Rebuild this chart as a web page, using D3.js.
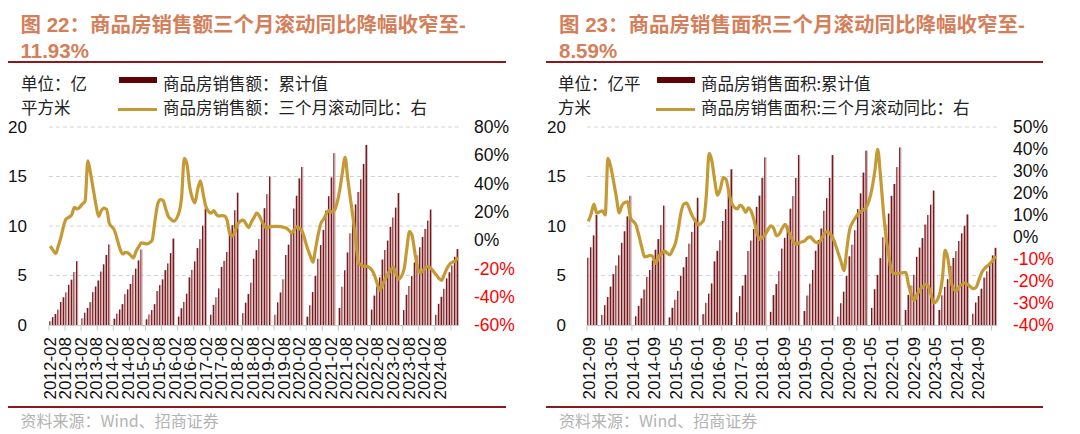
<!DOCTYPE html>
<html>
<head>
<meta charset="utf-8">
<script src="https://cdn.jsdelivr.net/npm/d3@7"></script>
<style>
  body{margin:0;background:#fff;}
  svg{display:block;}
</style>
</head>
<body>
<svg id="chart" width="1080" height="434"></svg>
<script>
// ---- data ----
// fig 22: commercial housing sales, cumulative (bars) and 3m rolling yoy % (line), 2012-02 .. 2024-10, no January
const leftSales = [
  0.38, 0.79, 1.11, 1.56, 2.32, 2.80, 3.30, 4.06, 4.58, 5.35, 6.45,
  0.68, 1.24, 1.72, 2.31, 3.32, 3.89, 4.50, 5.40, 6.13, 7.07, 8.14,
  0.64, 1.15, 1.57, 2.11, 3.11, 3.60, 4.15, 5.05, 5.70, 6.53, 7.63,
  0.58, 1.06, 1.51, 2.11, 3.43, 4.03, 4.61, 5.54, 6.22, 7.26, 8.73,
  0.86, 1.69, 2.33, 3.16, 4.81, 5.57, 6.43, 7.77, 8.67, 10.03, 11.76,
  1.04, 2.04, 2.80, 3.70, 5.87, 6.48, 7.38, 9.16, 10.08, 11.59, 13.37,
  1.19, 2.26, 3.14, 4.27, 6.69, 7.56, 8.69, 10.62, 11.80, 13.22, 15.00,
  1.04, 2.29, 3.29, 4.62, 7.07, 8.12, 9.51, 11.77, 13.06, 14.81, 15.97,
  0.85, 2.00, 3.33, 4.96, 6.69, 8.07, 9.61, 11.56, 13.01, 14.91, 17.36,
  1.73, 3.86, 5.53, 7.33, 9.26, 10.82, 12.18, 13.44, 14.72, 16.27, 18.19,
  1.56, 2.97, 3.89, 4.81, 6.61, 7.58, 8.53, 9.92, 10.86, 11.86, 13.33,
  1.50, 3.05, 3.94, 4.95, 6.31, 7.05, 7.85, 8.90, 9.70, 10.55, 11.66,
  1.03, 2.14, 2.85, 3.66, 4.71, 5.33, 6.02, 6.89, 7.67
];
const leftYoy = [
  -4.2, -7.1, -9.5, -4.0, 2.2, 10.4, 15.2, 16.3, 18.0, 23.1, 22.1,
  25.6, 27.8, 56.0, 47.4, 36.3, 25.4, 16.8, 20.7, 22.6, 21.7, 12.1,
  6.6, 0.3, -6.1, -9.8, -8.7, -9.1, -10.8, -12.6, -7.9, -4.7, -1.9,
  -2.7, -1.8, 0.0, 12.8, 24.9, 28.7, 28.3, 22.6, 16.9, 14.9, 13.4,
  19.4, 30.5, 57.9, 53.7, 37.7, 29.7, 26.4, 36.0, 42.0, 33.2, 24.0,
  19.1, 20.9, 18.1, 17.0, 17.4, 17.1, 13.9, 4.3, 2.9, 6.6, 11.5,
  14.1, 11.6, 8.9, 12.7, 15.9, 19.1, 17.2, 13.1, 9.7, 8.3, 9.6,
  9.7, 9.7, 9.6, 9.1, 8.6, 7.0, 5.1, 7.3, 9.6, 8.3, 6.1,
  -6.1, -11.1, -15.5, -5.7, 4.3, 11.9, 14.9, 18.7, 21.1, 19.8, 21.1,
  35.5, 47.9, 58.6, 43.2, 29.1, 15.2, -1.0, -16.2, -17.5, -18.5, -18.5,
  -21.2, -25.0, -30.8, -35.5, -31.2, -27.5, -23.7, -21.2, -19.0, -23.8, -27.6,
  -20.5, -6.6, 6.0, 3.2, -8.4, -19.5, -23.0, -21.7, -19.5, -18.5, -20.0,
  -24.5, -27.0, -28.4, -24.4, -20.1, -17.1, -15.6, -15.0, -11.93
];
const leftTickLabels = ["2012-02","2012-08","2013-02","2013-08","2014-02","2014-08","2015-02","2015-08",
  "2016-02","2016-08","2017-02","2017-08","2018-02","2018-08","2019-02","2019-08","2020-02","2020-08",
  "2021-02","2021-08","2022-02","2022-08","2023-02","2023-08","2024-02","2024-08"];

// fig 23: sales floor area, cumulative (bars) and 3m rolling yoy % (line), 2012-09 .. 2024-10, no January
const rightArea = [
  6.80, 7.85, 9.05, 11.13,
  1.01, 2.01, 2.83, 3.88, 5.14, 6.02, 7.04, 8.30, 9.47, 10.97, 13.06,
  0.88, 1.93, 2.70, 3.58, 4.86, 5.55, 6.52, 7.61, 8.68, 10.09, 12.06,
  0.77, 1.74, 2.56, 3.45, 4.96, 5.83, 6.87, 8.22, 9.41, 10.82, 12.85,
  1.10, 2.24, 3.17, 4.20, 6.43, 7.50, 8.56, 10.51, 11.70, 13.50, 15.73,
  1.29, 2.92, 3.98, 5.07, 7.47, 8.53, 9.69, 11.93, 13.07, 14.87, 16.94,
  1.33, 3.02, 4.13, 5.44, 7.72, 8.80, 10.05, 11.75, 13.02, 14.86, 17.17,
  1.41, 2.98, 4.18, 5.56, 7.50, 8.59, 9.75, 11.54, 12.81, 14.86, 17.16,
  0.85, 2.20, 3.37, 4.95, 6.94, 8.12, 9.57, 11.70, 13.30, 15.40, 17.61,
  1.73, 3.61, 5.06, 6.75, 8.86, 10.13, 11.26, 13.05, 14.25, 15.95, 17.94,
  1.51, 3.05, 3.99, 5.07, 6.89, 7.82, 8.78, 10.15, 11.11, 12.16, 13.58,
  1.51, 3.00, 3.85, 4.63, 5.95, 6.77, 7.46, 8.48, 9.26, 10.03, 11.17,
  1.14, 2.27, 2.93, 3.67, 4.79, 5.42, 6.05, 7.03, 7.80
];
const rightYoy = [
  7.1, 10.5, 14.9, 10.9,
  11.9, 10.0, 35.7, 31.8, 25.2, 18.0, 11.0, 14.4, 15.7, 16.0, 8.9,
  5.3, 0.7, -4.5, -9.0, -8.8, -8.3, -9.0, -12.0, -8.9, -7.7, -6.4,
  -8.1, -5.8, -2.8, 3.5, 11.2, 15.0, 15.4, 12.7, 9.6, 7.4, 5.6,
  7.6, 18.8, 38.0, 34.4, 25.6, 19.0, 21.8, 27.0, 26.2, 20.5, 15.4,
  12.8, 14.5, 13.5, 11.2, 13.3, 11.6, 7.6, 1.8, -1.1, -0.2, 1.3,
  5.1, 3.9, 0.5, 1.4, 4.0, 5.8, 3.2, 0.5, -2.2, -3.3, -2.6,
  -1.8, -0.4, 0.1, -1.3, -2.4, -2.6, -0.7, 1.5, 2.5, 1.6, -0.3,
  -7.6, -11.5, -15.3, -5.5, 3.4, 6.5, 8.6, 10.5, 11.5, 12.4, 13.6,
  22.4, 30.2, 39.8, 27.4, 12.0, -0.5, -8.8, -15.8, -16.5, -16.6, -16.4,
  -16.1, -22.0, -26.4, -28.8, -26.1, -24.1, -22.6, -21.6, -22.4, -26.2, -30.0,
  -26.0, -19.0, -5.9, -10.0, -19.7, -23.6, -24.6, -22.6, -21.6, -21.0, -21.6,
  -23.5, -22.9, -19.6, -16.2, -14.3, -13.2, -12.0, -10.5, -8.59
];
const rightTickLabels = ["2012-09","2013-05","2014-01","2014-09","2015-05","2016-01","2016-09","2017-05",
  "2018-01","2018-09","2019-05","2020-01","2020-09","2021-05","2022-01","2022-09","2023-05","2024-01","2024-09"];

const leftAxisTicks = [0, 5, 10, 15, 20];

// ---- drawing ----
const latin = "'Liberation Sans', Arial, 'Noto Sans CJK SC', sans-serif";
const cjk = "'Noto Sans CJK SC', 'Liberation Sans', sans-serif";
const parse = d3.timeParse("%Y-%m"), fmt = d3.timeFormat("%Y-%m");

const svg = d3.select("#chart");
const defs = svg.append("defs");
const grad = defs.append("linearGradient").attr("id","barFill").attr("x1","0%").attr("x2","100%").attr("y1","0%").attr("y2","0%");
grad.append("stop").attr("offset","0%").attr("stop-color","#761a1d");
grad.append("stop").attr("offset","48%").attr("stop-color","#761a1d");
grad.append("stop").attr("offset","52%").attr("stop-color","#c89a9b");
grad.append("stop").attr("offset","100%").attr("stop-color","#c89a9b");

function drawPanel(p){
  const g = svg.append("g");
  const allMonths = d3.timeMonth.range(parse(p.start), d3.timeMonth.offset(parse(p.end),1)).map(fmt);
  const months = allMonths.filter(m => m.slice(5)!=="01");
  const bars = months.map((m,i)=>({m:m, v:p.bars[i]}));
  const pts = months.map((m,i)=>({m:m, v:p.yoy[i]}));

  const x = d3.scaleBand().domain(allMonths).range([p.x0, p.x0+allMonths.length*p.step]);
  const yL = d3.scaleLinear().domain([0,20]).range([325,127]);
  const yR = d3.scaleLinear().domain(p.rightDomain).range([325,127]);
  const xl = d3.scalePoint().domain(p.tickLabels).range(p.labelRange);

  // title
  g.selectAll("text.title").data(p.title).join("text").attr("class","title")
    .attr("x",p.titleX).attr("y",(d,i)=>32+i*25.5)
    .attr("font-family",latin).attr("font-size",20.5).attr("font-weight","bold").attr("fill","#d47e5a")
    .text(d=>d);

  // top and bottom rules
  g.append("line").attr("x1",p.rule[0]).attr("x2",p.rule[1]).attr("y1",62).attr("y2",62).attr("stroke","#8b1a1f").attr("stroke-width",1.8);
  g.append("line").attr("x1",p.rule[0]).attr("x2",p.rule[1]).attr("y1",407).attr("y2",407).attr("stroke","#8b1a1f").attr("stroke-width",2.2);

  // unit + legend
  g.selectAll("text.unit").data(p.unit).join("text").attr("class","unit")
    .attr("x",p.unitX).attr("y",(d,i)=>90+i*24).attr("font-family",cjk).attr("font-size",16.5).attr("fill","#222").text(d=>d);
  g.append("rect").attr("x",p.legX).attr("y",77).attr("width",38).attr("height",6).attr("fill","#5e0407");
  g.append("line").attr("x1",p.legX-1).attr("x2",p.legX+38).attr("y1",109.5).attr("y2",109.5).attr("stroke","#c49a36").attr("stroke-width",3);
  g.selectAll("text.leg").data(p.legend).join("text").attr("class","leg")
    .attr("x",p.legX+44).attr("y",(d,i)=>90+i*24).attr("font-family",cjk).attr("font-size",16.5).attr("fill","#222").text(d=>d);

  // gridlines
  const gx1 = p.x0, gx2 = p.x0+allMonths.length*p.step;
  g.selectAll("line.grid").data(leftAxisTicks.filter(d=>d>0)).join("line").attr("class","grid")
    .attr("x1",gx1).attr("x2",gx2).attr("y1",d=>yL(d)).attr("y2",d=>yL(d))
    .attr("stroke","#d4d4d4").attr("stroke-width",1).attr("stroke-dasharray","4,3");

  // left axis
  const ax = g.append("g").attr("transform","translate("+p.leftLabelX+",0)")
    .call(d3.axisLeft(yL).tickValues(leftAxisTicks).tickSize(0).tickPadding(0));
  ax.select(".domain").remove();
  ax.selectAll("text").attr("font-family",latin).attr("font-size",17).attr("fill","#111");

  // right axis
  const ar = g.append("g").attr("transform","translate("+p.rightLabelX+",0)")
    .call(d3.axisRight(yR).tickValues(d3.range(p.rightDomain[0], p.rightDomain[1]+1, p.rightStep)).tickSize(0).tickPadding(0).tickFormat(d=>d+"%"));
  ar.select(".domain").remove();
  ar.selectAll("text").attr("font-family",latin).attr("font-size",17.5).attr("fill",d=>d<0?"#ff0000":"#111");

  // bars
  g.selectAll("rect.bar").data(bars).join("rect").attr("class","bar")
    .attr("x",d=>x(d.m)+x.bandwidth()*0.1).attr("width",x.bandwidth()*0.8)
    .attr("y",d=>yL(d.v)).attr("height",d=>yL(0)-yL(d.v))
    .attr("fill","url(#barFill)");

  // x axis line and ticks
  g.append("line").attr("x1",gx1).attr("x2",gx2).attr("y1",325.5).attr("y2",325.5).attr("stroke","#c8c8c8");
  const tickMonths = allMonths.filter((m,i)=>i%p.tickEvery===0);
  g.selectAll("line.xt").data(tickMonths).join("line").attr("class","xt")
    .attr("x1",d=>x(d)).attr("x2",d=>x(d)).attr("y1",325.5).attr("y2",330.5).attr("stroke","#c8c8c8");

  // x labels
  const axb = g.append("g").attr("transform","translate(0,337)")
    .call(d3.axisBottom(xl).tickSize(0).tickPadding(0));
  axb.select(".domain").remove();
  axb.selectAll("text").attr("font-family",latin).attr("font-size",17).attr("fill","#111")
    .attr("text-anchor","end").attr("transform","rotate(-90)").attr("x",0).attr("y",0).attr("dy","0.36em");

  // line
  const lineGen = d3.line().x(d=>x(d.m)+x.bandwidth()/2).y(d=>yR(d.v)).curve(d3.curveMonotoneX);
  g.append("path").datum(pts).attr("d",lineGen).attr("fill","none")
    .attr("stroke","#c49a36").attr("stroke-width",3.2).attr("stroke-linejoin","round");

  // source
  g.append("text").attr("x",p.titleX).attr("y",427).attr("font-family",cjk).attr("font-size",16)
    .attr("fill","#b3b3b3").text("资料来源：Wind、招商证券");
}

drawPanel({
  start:"2012-02", end:"2024-10", bars:leftSales, yoy:leftYoy, tickLabels:leftTickLabels,
  title:["图 22：商品房销售额三个月滚动同比降幅收窄至-","11.93%"],
  unit:["单位：亿","平方米"],
  legend:["商品房销售额：累计值","商品房销售额：三个月滚动同比：右"],
  titleX:20.5, rule:[8,506], unitX:21, legX:119,
  x0:48.96, step:2.68, labelRange:[49,439.3], tickEvery:6,
  leftLabelX:27, rightLabelX:474, rightDomain:[-60,80], rightStep:20
});

drawPanel({
  start:"2012-09", end:"2024-10", bars:rightArea, yoy:rightYoy, tickLabels:rightTickLabels,
  title:["图 23：商品房销售面积三个月滚动同比降幅收窄至-","8.59%"],
  unit:["单位：亿平","方米"],
  legend:["商品房销售面积:累计值","商品房销售面积:三个月滚动同比：右"],
  titleX:559, rule:[546,1043], unitX:558, legX:657,
  x0:586.9, step:2.81, labelRange:[588.8,977.7], tickEvery:8,
  leftLabelX:566, rightLabelX:1013, rightDomain:[-40,50], rightStep:10
});
</script>
</body>
</html>
